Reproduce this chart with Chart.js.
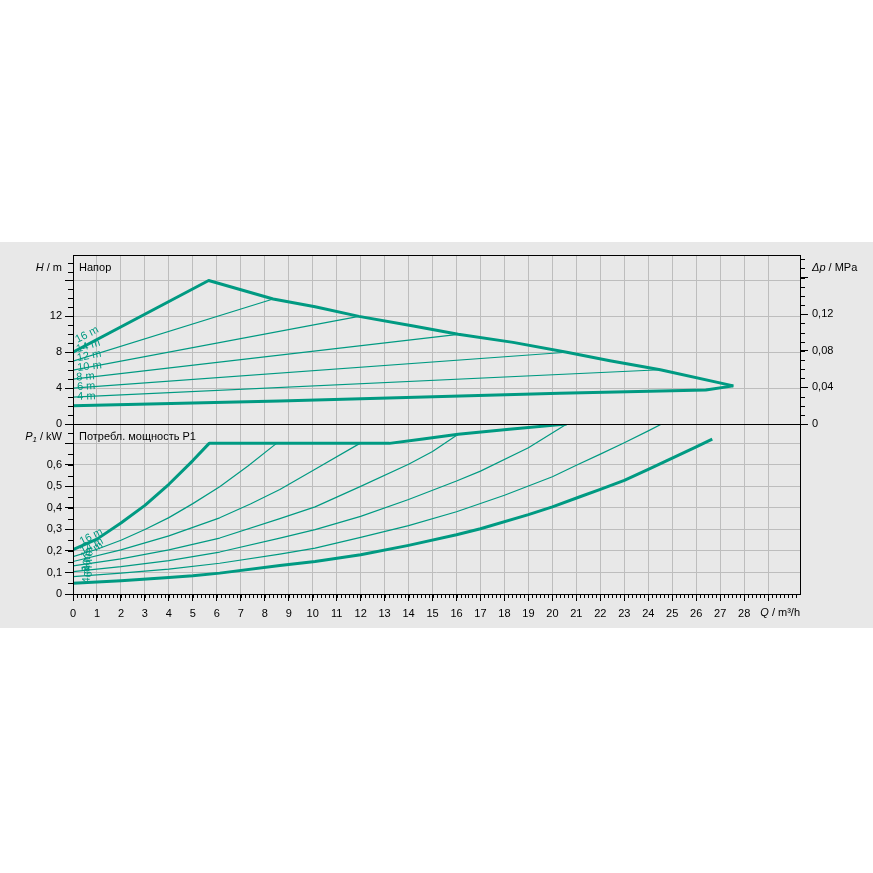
<!DOCTYPE html>
<html>
<head>
<meta charset="utf-8">
<script src="https://cdn.jsdelivr.net/npm/chart.js@4.4.1/dist/chart.umd.min.js"></script>
<style>
  html, body { margin: 0; padding: 0; background: #ffffff; }
  #band { position: absolute; left: 0; top: 242px; width: 873px; height: 386px; background: #e8e8e8; }
  #power { position: absolute; left: 0; top: 414px; }
  #head { position: absolute; left: 0; top: 242px; }
</style>
</head>
<body>
<div id="band"></div>
<canvas id="power" width="873" height="214"></canvas>
<canvas id="head" width="873" height="200"></canvas>
<script>
// ---- values ----
const flowTicks = [0, 1, 2, 3, 4, 5, 6, 7, 8, 9, 10, 11, 12, 13, 14, 15, 16, 17, 18, 19, 20, 21, 22, 23, 24, 25, 26, 27, 28, 29];
const headTicks = [0, 4, 8, 12, 16];
const pressureTicks = [0, 0.04, 0.08, 0.12, 0.16];
const powerTicks = [0, 0.1, 0.2, 0.3, 0.4, 0.5, 0.6, 0.7];
const setpoints = ['16 m', '14 m', '12 m', '10 m', '8 m', '6 m', '4 m'];

// head H [m] over flow Q [m³/h] for each setpoint
const head16 = [[0, 8.0], [5.66, 16.0], [8.35, 13.94], [10.1, 13.08], [11.93, 12.0], [14.2, 10.92], [16.07, 10.0], [18.36, 9.1], [20.6, 8.0], [22.4, 7.05], [24.5, 6.05], [27.55, 4.25]];
const head14 = [[0, 7.0], [8.35, 13.94]];
const head12 = [[0, 6.0], [11.93, 12.0]];
const head10 = [[0, 5.0], [16.07, 10.0]];
const head8 = [[0, 4.0], [20.6, 8.0]];
const head6 = [[0, 3.0], [24.5, 6.05]];
const head4 = [[0, 2.04], [8.63, 2.56], [20.3, 3.42], [26.4, 3.79], [27.55, 4.25]];

// power input P1 [kW] over flow Q [m³/h] for each setpoint
const power16 = [[0, 0.206], [1, 0.255], [2, 0.33], [3, 0.412], [4, 0.51], [5, 0.62], [5.68, 0.70], [13.2, 0.70], [14.6, 0.72], [16.07, 0.742], [18.2, 0.766], [20.24, 0.786], [20.6, 0.79]];
const power14 = [[0, 0.174], [1, 0.208], [2, 0.25], [3, 0.3], [4, 0.355], [5, 0.42], [6.12, 0.498], [7.3, 0.595], [8.49, 0.70]];
const power12 = [[0, 0.151], [2, 0.205], [4, 0.27], [6.12, 0.354], [7.4, 0.418], [8.63, 0.486], [10.1, 0.58], [11.97, 0.70]];
const power10 = [[0, 0.131], [2, 0.163], [4, 0.205], [6.12, 0.26], [8.63, 0.35], [10.1, 0.405], [12, 0.5], [14, 0.603], [15, 0.662], [16.07, 0.742]];
const power8 = [[0, 0.104], [2, 0.127], [4, 0.155], [6.12, 0.195], [8.63, 0.26], [10.1, 0.299], [12, 0.361], [14, 0.439], [16, 0.525], [17, 0.571], [19, 0.68], [20.6, 0.79]];
const power6 = [[0, 0.081], [2, 0.097], [4, 0.116], [6.12, 0.143], [8.63, 0.185], [10.1, 0.213], [12, 0.263], [14, 0.318], [16, 0.382], [18, 0.459], [20, 0.545], [21, 0.598], [22, 0.65], [23, 0.703], [24, 0.758], [24.56, 0.79]];
const power4 = [[0, 0.05], [2, 0.062], [4, 0.077], [5, 0.085], [6.12, 0.097], [8.63, 0.132], [10.1, 0.151], [12, 0.182], [14, 0.226], [16, 0.275], [17, 0.303], [19, 0.369], [20, 0.405], [21.15, 0.452], [22, 0.486], [23, 0.528], [24, 0.579], [25, 0.631], [26, 0.684], [26.67, 0.72]];

const headCurves = [head16, head14, head12, head10, head8, head6, head4];
const powerCurves = [power16, power14, power12, power10, power8, power6, power4];

// ---- styling ----
const TEAL = '#009a82';
const GRID = '#bdbdbd';
const FAMILY = '"Liberation Sans", Arial, sans-serif';
const Q_MAX = 30.33;
const H_MAX = 18.84;
const P_MAX = 0.79;
const MPA_PER_M = 0.0098067;

function interp(pts, q) {
  for (let i = 1; i < pts.length; i++) {
    if (q <= pts[i][0] || i === pts.length - 1) {
      const [x0, y0] = pts[i - 1], [x1, y1] = pts[i];
      return y0 + (y1 - y0) * (q - x0) / (x1 - x0);
    }
  }
  return pts[pts.length - 1][1];
}

function datasetsFor(curves) {
  return curves.map((c, i) => {
    const bold = (i === 0 || i === curves.length - 1);
    return {
      data: c.map(([x, y]) => ({ x, y })),
      borderColor: TEAL,
      borderWidth: bold ? 3 : 1.2,
      borderJoinStyle: 'round',
      pointRadius: 0,
      fill: false,
      tension: 0,
      order: bold ? 0 : 1
    };
  });
}

function fixTicks(values) {
  return (s) => { s.ticks = values.map(v => ({ value: v })); };
}

// outward minor tick marks along the axes
const minorTicks = {
  id: 'minorTicks',
  afterDraw(chart, args, opts) {
    const ctx = chart.ctx;
    ctx.save();
    ctx.strokeStyle = '#000';
    ctx.lineWidth = 1;
    ctx.beginPath();
    (opts.marks || []).forEach(m => {
      const s = chart.scales[m.scale];
      for (let i = 0; i * m.step <= m.to + 1e-9; i++) {
        const p = Math.round(s.getPixelForValue(i * m.step)) + 0.5;
        if (m.side === 'left') { ctx.moveTo(s.right - m.len, p); ctx.lineTo(s.right, p); }
        else if (m.side === 'right') { ctx.moveTo(s.left, p); ctx.lineTo(s.left + m.len, p); }
        else { ctx.moveTo(p, s.top); ctx.lineTo(p, s.top + m.len); }
      }
    });
    ctx.stroke();
    ctx.restore();
  }
};

// black frame round the plot area
const frame = {
  id: 'frame',
  afterDraw(chart) {
    const { ctx, chartArea: a } = chart;
    ctx.save();
    ctx.strokeStyle = '#000';
    ctx.lineWidth = 1;
    const l = Math.round(a.left) + 0.5, r = Math.round(a.right) + 0.5;
    const t = Math.round(a.top) + 0.5, b = Math.round(a.bottom) + 0.5;
    ctx.strokeRect(l, t, r - l, b - t);
    ctx.restore();
  }
};

// setpoint labels written along the curves
const curveLabels = {
  id: 'curveLabels',
  afterDatasetsDraw(chart, args, opts) {
    const { ctx } = chart;
    const xs = chart.scales.x, ys = chart.scales.y;
    ctx.save();
    ctx.font = '11px ' + FAMILY;
    ctx.fillStyle = TEAL;
    ctx.textAlign = 'center';
    ctx.textBaseline = 'middle';
    opts.items.forEach((it, i) => {
      const pts = opts.curves[i];
      const px = xs.getPixelForValue(it.q);
      const py = ys.getPixelForValue(interp(pts, it.q));
      let ang;
      if (it.angle !== undefined) {
        ang = it.angle * Math.PI / 180;
      } else {
        const dx = xs.getPixelForValue(it.q + 0.5) - xs.getPixelForValue(it.q - 0.5);
        const dy = ys.getPixelForValue(interp(pts, it.q + 0.5)) - ys.getPixelForValue(interp(pts, it.q - 0.5));
        ang = Math.atan2(dy, dx);
      }
      ctx.save();
      ctx.translate(px + (it.dx || 0), py + (it.dy || 0));
      ctx.rotate(ang);
      ctx.fillText(setpoints[i], 0, -(it.lift || 0));
      ctx.restore();
    });
    ctx.restore();
  }
};

function richText(ctx, parts, x, y, align) {
  const fontOf = p => (p.italic ? 'italic ' : '') + (p.sub ? 8 : 11) + 'px ' + FAMILY;
  const widths = parts.map(p => { ctx.font = fontOf(p); return ctx.measureText(p.t).width; });
  const total = widths.reduce((a, b) => a + b, 0);
  let cx = align === 'right' ? x - total : x;
  parts.forEach((p, i) => {
    ctx.font = fontOf(p);
    ctx.fillText(p.t, cx, y + (p.sub ? 3 : 0));
    cx += widths[i];
  });
}

const titles = {
  id: 'titles',
  afterDraw(chart, args, opts) {
    const { ctx } = chart;
    ctx.save();
    ctx.fillStyle = '#000';
    ctx.textAlign = 'left';
    ctx.textBaseline = 'middle';
    opts.items.forEach(it => richText(ctx, it.parts, it.x, it.y, it.align));
    ctx.restore();
  }
};

const tickFont = { family: FAMILY, size: 11 };

// ---- head chart ----
new Chart(document.getElementById('head'), {
  type: 'line',
  data: { datasets: datasetsFor(headCurves) },
  plugins: [minorTicks, frame, curveLabels, titles],
  options: {
    responsive: false,
    animation: false,
    devicePixelRatio: 1,
    layout: { padding: { top: 13, bottom: 18, left: 0, right: 0 } },
    plugins: {
      legend: { display: false },
      tooltip: { enabled: false },
      minorTicks: { marks: [
        { scale: 'y', side: 'left', step: 1, to: H_MAX, len: 5 },
        { scale: 'y2', side: 'right', step: 0.01, to: H_MAX * MPA_PER_M, len: 5 }
      ] },
      curveLabels: {
        curves: headCurves,
        items: [
          { q: 0.76, lift: 9 },
          { q: 0.76, lift: 10 },
          { q: 0.76, lift: 11 },
          { q: 0.74, lift: 10.5 },
          { q: 0.55, lift: 10.5 },
          { q: 0.57, lift: 10 },
          { q: 0.57, lift: 9 }
        ]
      },
      titles: { items: [
        { parts: [{ t: 'H', italic: true }, { t: ' / m' }], x: 62, y: 26, align: 'right' },
        { parts: [{ t: 'Напор' }], x: 79, y: 26, align: 'left' },
        { parts: [{ t: 'Δp', italic: true }, { t: ' / MPa' }], x: 812, y: 26, align: 'left' }
      ] }
    },
    scales: {
      x: {
        type: 'linear', min: 0, max: Q_MAX,
        afterBuildTicks: fixTicks(flowTicks),
        afterFit: s => { s.height = 0; },
        ticks: { display: false },
        grid: { color: GRID, drawTicks: false },
        border: { display: false }
      },
      y: {
        type: 'linear', position: 'left', min: 0, max: H_MAX,
        afterBuildTicks: fixTicks(headTicks),
        afterFit: s => { s.width = 73; },
        ticks: { font: tickFont, color: '#000', padding: 3, callback: v => (v === 16 ? '' : String(v)) },
        grid: { color: GRID, tickColor: '#000', tickLength: 8 },
        border: { display: false }
      },
      y2: {
        type: 'linear', position: 'right', min: 0, max: H_MAX * MPA_PER_M,
        afterBuildTicks: fixTicks(pressureTicks),
        afterFit: s => { s.width = 73; },
        ticks: { font: tickFont, color: '#000', padding: 4,
          callback: v => (v === 0 ? '0' : (v === 0.16 ? '' : v.toFixed(2).replace('.', ','))) },
        grid: { drawOnChartArea: false, tickColor: '#000', tickLength: 8 },
        border: { display: false }
      }
    }
  }
});

// ---- power chart ----
new Chart(document.getElementById('power'), {
  type: 'line',
  data: { datasets: datasetsFor(powerCurves) },
  plugins: [minorTicks, frame, curveLabels, titles],
  options: {
    responsive: false,
    animation: false,
    devicePixelRatio: 1,
    layout: { padding: { top: 10, bottom: 0, left: 0, right: 0 } },
    plugins: {
      legend: { display: false },
      tooltip: { enabled: false },
      minorTicks: { marks: [
        { scale: 'y', side: 'left', step: 0.05, to: 0.75, len: 5 },
        { scale: 'x', side: 'bottom', step: 1 / 6, to: Q_MAX, len: 4 }
      ] },
      curveLabels: {
        curves: powerCurves,
        items: [
          { q: 0.76, dx: 0, dy: -5, angle: -27 },
          { q: 0.76, dx: 0.5, dy: -5, angle: -27 },
          { q: 0.76, dx: 0.5, dy: -6, angle: -35 },
          { q: 0.76, dx: -3.5, dy: -4, angle: -80 },
          { q: 0.76, dx: -4.5, dy: -7, angle: -85 },
          { q: 0.76, dx: -2.5, dy: -7, angle: -88 },
          { q: 0.76, dx: -4.5, dy: -8, angle: -88 }
        ]
      },
      titles: { items: [
        { parts: [{ t: 'P', italic: true }, { t: '1', italic: true, sub: true }, { t: ' / kW' }], x: 62, y: 23, align: 'right' },
        { parts: [{ t: 'Потребл. мощность P1' }], x: 79, y: 23, align: 'left' },
        { parts: [{ t: 'Q', italic: true }, { t: ' / m³/h' }], x: 800, y: 199, align: 'right' }
      ] }
    },
    scales: {
      x: {
        type: 'linear', position: 'bottom', min: 0, max: Q_MAX,
        afterBuildTicks: fixTicks(flowTicks),
        afterFit: s => { s.height = 34; },
        ticks: { font: tickFont, color: '#000', padding: 6, autoSkip: false, maxRotation: 0,
          callback: v => (v === 29 ? '' : String(v)) },
        grid: { color: GRID, tickColor: '#000', tickLength: 7 },
        border: { display: false }
      },
      y: {
        type: 'linear', position: 'left', min: 0, max: P_MAX,
        afterBuildTicks: fixTicks(powerTicks),
        afterFit: s => { s.width = 73; },
        ticks: { font: tickFont, color: '#000', padding: 3,
          callback: v => (v === 0.7 ? '' : (v === 0 ? '0' : v.toFixed(1).replace('.', ','))) },
        grid: { color: GRID, tickColor: '#000', tickLength: 8 },
        border: { display: false }
      },
      y2: {
        type: 'linear', position: 'right', min: 0, max: P_MAX,
        afterFit: s => { s.width = 73; },
        ticks: { display: false },
        grid: { drawOnChartArea: false, drawTicks: false },
        border: { display: false }
      }
    }
  }
});
</script>
</body>
</html>
